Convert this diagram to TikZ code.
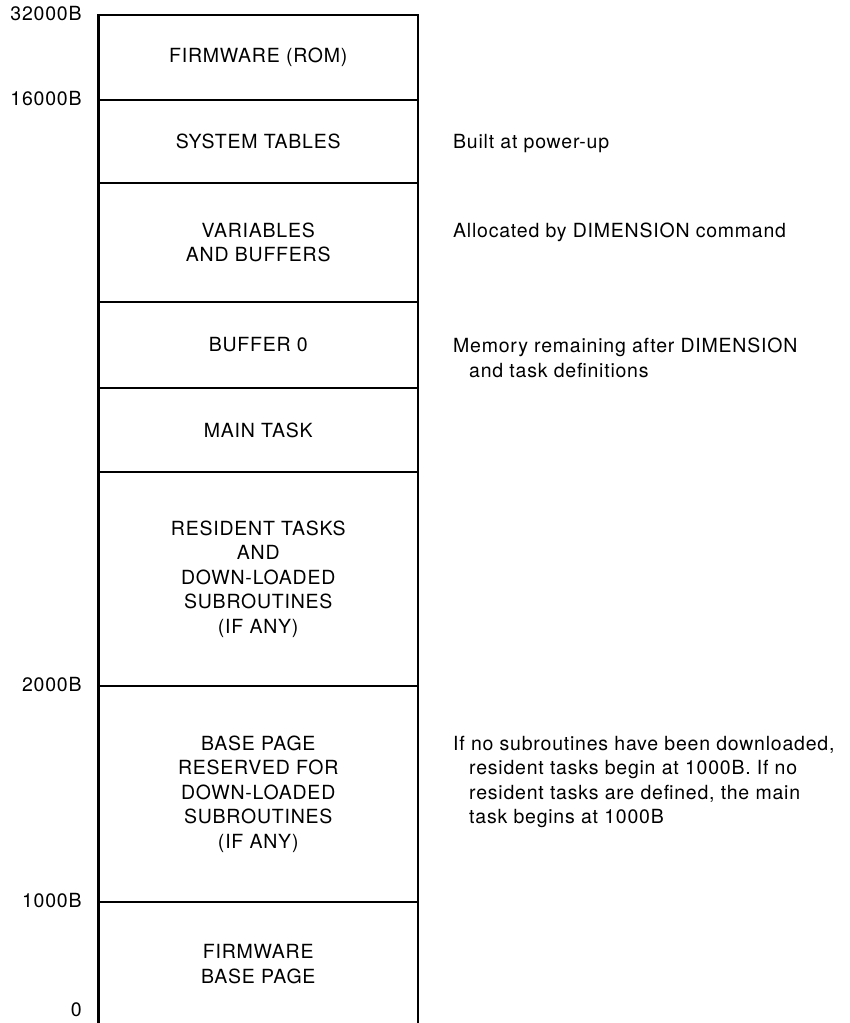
\documentclass[tikz,border=0pt]{standalone}
\usepackage{fontspec}
\setmainfont{TeX Gyre Heros}[LetterSpace=4.0]
\newcommand\memfont{\fontsize{19.5}{24.5}\selectfont}
\tikzset{
  seg/.style={draw, line width=2.4pt, minimum width=319.5pt, inner sep=0pt,
    align=center, font=\memfont},
  addr/.style={anchor=east, inner sep=0pt, font=\memfont},
  note/.style={anchor=north west, inner sep=0pt, align=left, font=\memfont},
}
\begin{document}
\begin{tikzpicture}[x=1pt, y=-1pt]
\useasboundingbox (0,0) rectangle (850,1023);
\clip (0,0) rectangle (850,1023);

% memory map, top (high addresses) to bottom
\node[seg, minimum height=85pt]  (fwrom)  at (258.25,57.5) {FIRMWARE (ROM)};
\node[seg, minimum height=83pt]  (systab) at (258.25,141.5) {SYSTEM TABLES};
\node[seg, minimum height=119pt] (vars)   at (258.25,242.5) {VARIABLES\\AND BUFFERS};
\node[seg, minimum height=86pt]  (buf)    at (258.25,345) {BUFFER 0};
\node[seg, minimum height=84pt]  (maint)  at (258.25,430) {MAIN TASK};
\node[seg, minimum height=214pt] (resid)  at (258.25,579)
  {RESIDENT TASKS\\AND\\DOWN-LOADED\\SUBROUTINES\\(IF ANY)};
\node[seg, minimum height=216pt] (basepg) at (258.25,794)
  {BASE PAGE\\RESERVED FOR\\DOWN-LOADED\\SUBROUTINES\\(IF ANY)};
\node[seg, minimum height=124pt] (fwbase) at (258.25,964) {FIRMWARE\\BASE PAGE};

% address labels
\node[addr] (a32k) at ([xshift=-15.5pt]fwrom.north west)  {32000B};
\node[addr] (a16k) at ([xshift=-15.5pt]systab.north west) {16000B};
\node[addr] (a2k)  at ([xshift=-15.5pt]basepg.north west) {2000B};
\node[addr] (a1k)  at ([xshift=-15.5pt]fwbase.north west) {1000B};
\node[addr] (a0)   at ([xshift=-15.5pt,yshift=17pt]fwbase.south west) {0};

% remarks (top of each block sits at the cap line of its first row)
\node[note] (n1) at (453,134.5) {Built at power-up};
\node[note] (n2) at (453,223) {Allocated by DIMENSION command};
\node[note] (n3) at (453,338)
  {Memory remaining after DIMENSION\\\hspace*{16pt}and task definitions};
\node[note] (n4) at (453,736)
  {If no subroutines have been downloaded,\\
   \hspace*{16pt}resident tasks begin at 1000B. If no\\
   \hspace*{16pt}resident tasks are defined, the main\\
   \hspace*{16pt}task begins at 1000B};
\end{tikzpicture}
\end{document}
